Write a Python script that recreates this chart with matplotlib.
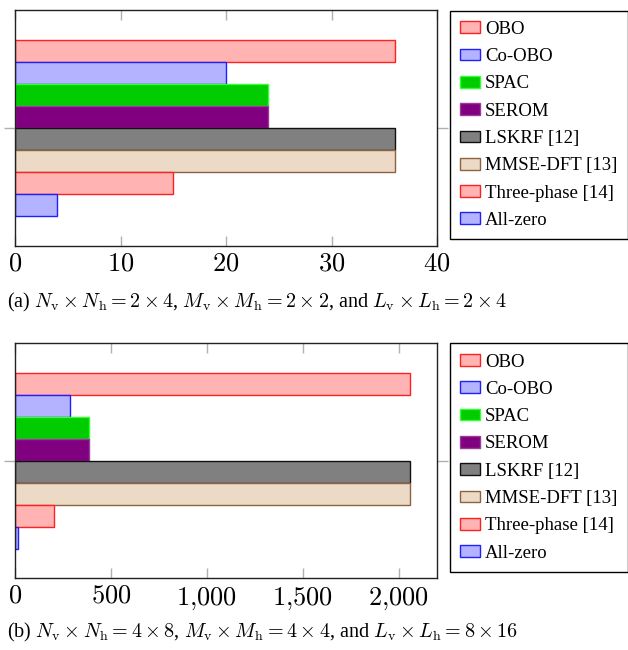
import matplotlib
matplotlib.use("Agg")
import matplotlib.pyplot as plt
import numpy as np
from matplotlib.ticker import FuncFormatter
from matplotlib.patches import Patch

plt.rcParams['font.family'] = ['Liberation Serif', 'DejaVu Serif']
plt.rcParams['mathtext.fontset'] = 'cm'

methods = ["OBO", "Co-OBO", "SPAC", "SEROM", "LSKRF [12]", "MMSE-DFT [13]",
           "Three-phase [14]", "All-zero"]
values_a = [36, 20, 24, 24, 36, 36, 15, 4]
values_b = [2060, 288, 384, 384, 2060, 2060, 204, 16]
xticks_a = [0, 10, 20, 30, 40]
xticks_b = [0, 500, 1000, 1500, 2000]
xlim_a = (0, 40)
xlim_b = (0, 2200)
caption_a = (r"(a) $N_{\mathrm{v}} \times N_{\mathrm{h}} = 2 \times 4$, "
             r"$M_{\mathrm{v}} \times M_{\mathrm{h}} = 2 \times 2$, and "
             r"$L_{\mathrm{v}} \times L_{\mathrm{h}} = 2 \times 4$")
caption_b = (r"(b) $N_{\mathrm{v}} \times N_{\mathrm{h}} = 4 \times 8$, "
             r"$M_{\mathrm{v}} \times M_{\mathrm{h}} = 4 \times 4$, and "
             r"$L_{\mathrm{v}} \times L_{\mathrm{h}} = 8 \times 16$")

faces = ["#FFB3B3", "#B3B3FF", "#00CC00", "#800080", "#808080", "#ECD9C6",
         "#FFB3B3", "#B3B3FF"]
edges = ["#FF2020", "#2020FF", "#33FF33", "#9A3A9A", "#111111", "#8C6440",
         "#FF2020", "#2020FF"]

W, H = 628, 650
fig = plt.figure(figsize=(W / 100, H / 100), dpi=100)


def fmt(v, pos):
    return r"$%s$" % ("{:,}".format(int(v)).replace(",", "{,}"))


def panel(top_px, bottom_px, values, xticks, xlim, caption, cap_y):
    ax = fig.add_axes([15 / W, 1 - bottom_px / H, 422 / W, (bottom_px - top_px) / H])
    n = len(values)
    pos = (n - 1) / 2 - np.arange(n)
    bar_px = 22.0
    half = (bottom_px - top_px) / bar_px / 2
    for i in range(n):
        ax.barh(pos[i], values[i], height=1.0, color=faces[i], edgecolor=edges[i],
                linewidth=1.0, zorder=2)
    ax.set_ylim(-half, half)
    ax.set_xlim(*xlim)
    ax.set_xticks(xticks)
    ax.xaxis.set_major_formatter(FuncFormatter(fmt))
    ax.tick_params(axis='x', direction='in', top=True, bottom=True, length=7.5,
                   width=1.0, color='#b0b0b0', labelsize=19, pad=5.5)
    ax.set_yticks([0])
    ax.set_yticklabels([''])
    ax.tick_params(axis='y', direction='out', left=True, right=True, length=8,
                   width=1.0, color='#b0b0b0')
    for s in ax.spines.values():
        s.set_color('#222222')
        s.set_linewidth(1.0)
    handles = [Patch(facecolor=faces[i], edgecolor=edges[i], linewidth=1.0)
               for i in range(n)]
    fig.legend(handles, methods, loc='upper left',
               bbox_to_anchor=(450 / W, 1 - (top_px + 0.5) / H),
               fontsize=13.5, frameon=True, fancybox=False, edgecolor='black',
               framealpha=1, borderaxespad=0, handlelength=1.07, handleheight=0.6,
               handletextpad=0.25, labelspacing=0.55, borderpad=0.55)
    fig.text(7 / W, 1 - cap_y / H, caption, fontsize=14.5, ha='left', va='center')
    return ax


panel(10, 245.7, values_a, xticks_a, xlim_a, caption_a, 302)
panel(342.7, 578.3, values_b, xticks_b, xlim_b, caption_b, 632)

fig.savefig("out.png", dpi=100)
